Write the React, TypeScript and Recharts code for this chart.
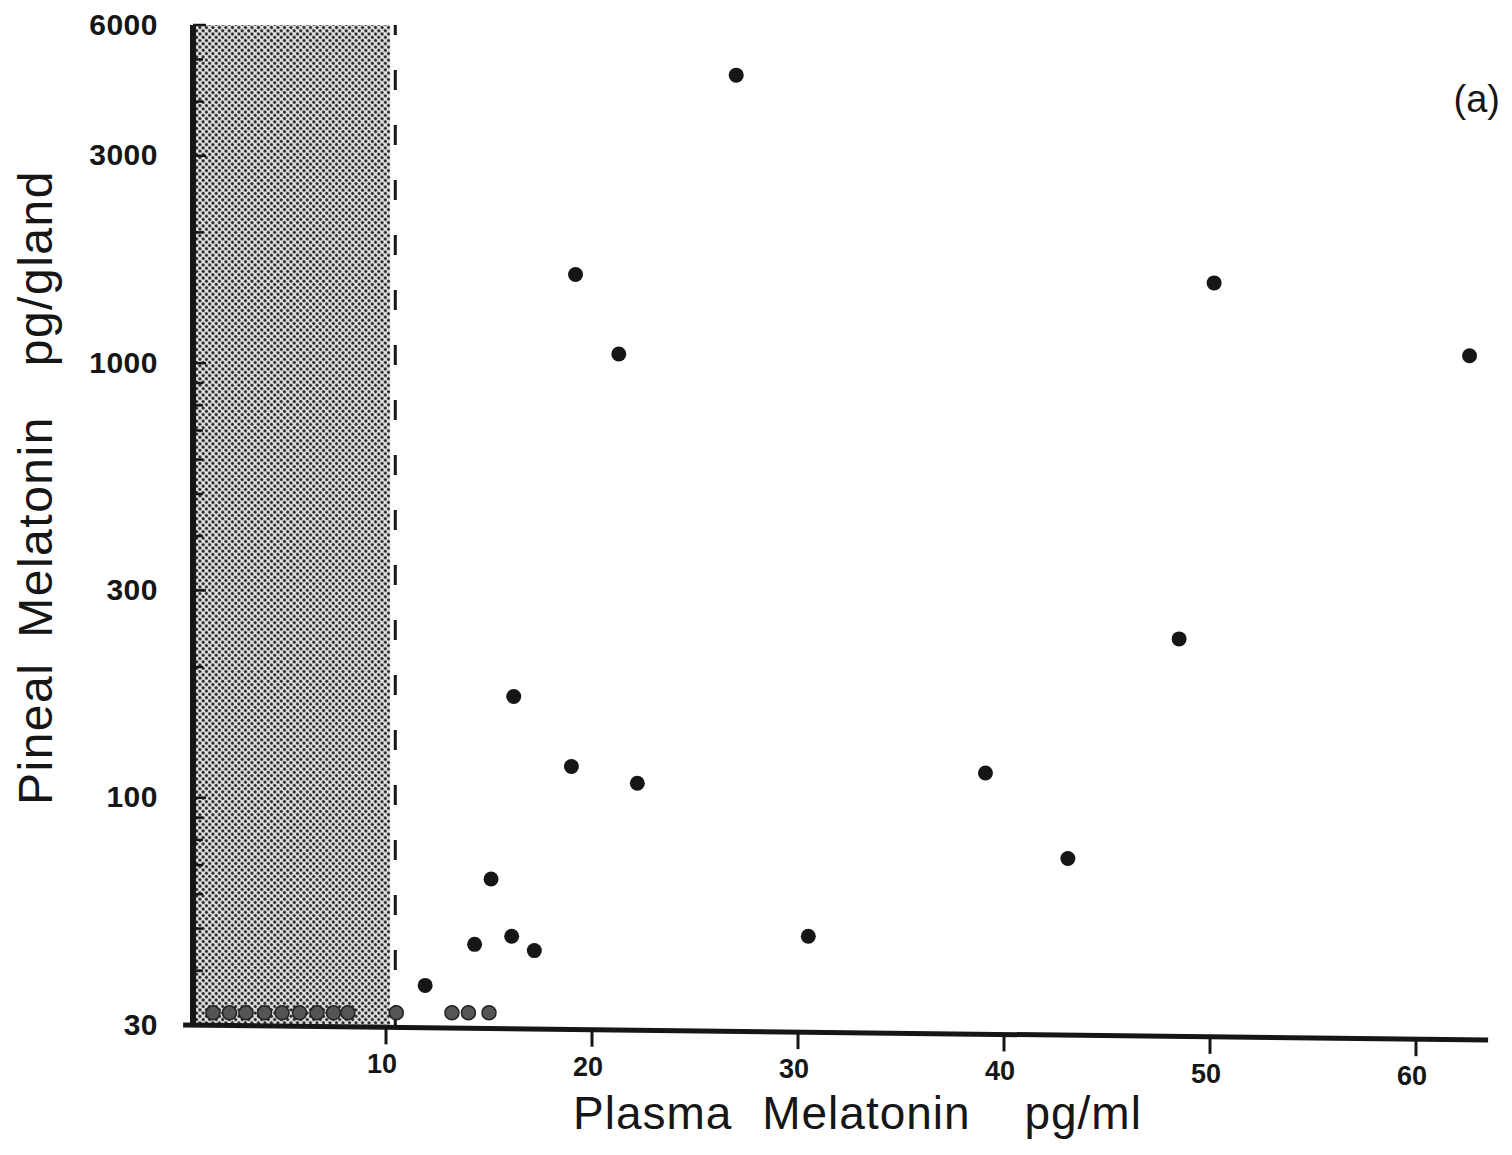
import React from 'react';
import { ScatterChart, Scatter, XAxis, YAxis, ReferenceArea, ReferenceLine } from 'recharts';

// ---- data ----
const plasmaX = [27.0, 19.2, 21.3, 50.2, 62.6, 48.5, 16.2, 19.0, 22.2, 39.1, 43.1, 15.1, 14.3, 16.1, 17.2, 30.5, 11.9];
const pinealY = [4600, 1600, 1050, 1530, 1040, 232, 171, 118, 108, 114, 72.5, 65, 46, 48, 44.5, 48, 37];

const undetectX = [1.6, 2.4, 3.2, 4.1, 4.95, 5.8, 6.65, 7.45, 8.15, 10.5, 13.2, 14.0, 15.0];
const undetectY = 32;

const xTicks = [10, 20, 30, 40, 50, 60];
const yMajor = [30, 100, 300, 1000, 3000, 6000];
const yMinor = [40, 50, 60, 70, 80, 90, 200, 400, 500, 600, 700, 800, 900, 2000, 4000, 5000];

const xDomain = [0.63, 63.35];
const yDomain = [30, 6000];
const shade = { x1: 0.63, x2: 10.2 };
const detectionLimit = 10.45;
const axisEnds = [{ x: 0.15, y: 30 }, { x: 63.5, y: 27.7 }];

const mainData = plasmaX.map((x, i) => ({ x, y: pinealY[i] }));
const lowData = undetectX.map((x) => ({ x, y: undetectY }));
const yTicks = [...yMajor, ...yMinor].sort((a, b) => a - b);

const INK = '#161616';

const slope = (xs: number) => ((xs - 175) / 1305) * 15;

const XTick = (props: any) => {
  const { x, y, payload } = props;
  const base = y + slope(x);
  return (
    <g>
      <line x1={x} x2={x} y1={base} y2={base + 17} stroke={INK} strokeWidth={3} />
      <text x={x - 4} y={base + 37} textAnchor="middle" dominantBaseline="central"
        fontFamily="Liberation Sans" fontWeight="bold" fontSize={27} fill={INK}>
        {payload.value}
      </text>
    </g>
  );
};

const YTick = (props: any) => {
  const { x, y, payload } = props;
  const major = yMajor.includes(payload.value);
  return (
    <g>
      <line x1={x} x2={x + (major ? 13 : 10)} y1={y} y2={y} stroke={INK} strokeWidth={2.5} />
      {major && (
        <text x={x - 35} y={y - 1} textAnchor="end" dominantBaseline="central"
          fontFamily="Liberation Sans" fontWeight="bold" fontSize={30} fill={INK} letterSpacing={0.5}>
          {payload.value}
        </text>
      )}
    </g>
  );
};

const Dot = (props: any) => <circle cx={props.cx} cy={props.cy} r={7.5} fill={INK} />;
const LowDot = (props: any) => (
  <circle cx={props.cx} cy={props.cy} r={7} fill="#555" stroke="#222" strokeWidth={1.5} />
);

export default function App() {
  return (
    <div style={{ width: 1504, height: 1147, background: '#fff' }}>
      <ScatterChart width={1504} height={1147} margin={{ top: 17, right: 27, left: 0, bottom: 0 }}>
        <defs>
          <pattern id="halftone" width="4.6" height="4.6" patternUnits="userSpaceOnUse" patternTransform="rotate(45)">
            <rect width="4.6" height="4.6" fill="#e2e2e2" />
            <circle cx="2.3" cy="2.3" r="1.65" fill="#2a2a2a" />
          </pattern>
        </defs>
        <XAxis type="number" dataKey="x" domain={xDomain} ticks={xTicks} allowDataOverflow
          axisLine={false} tickLine={false} tickSize={0} tickMargin={0} height={130} tick={<XTick />} interval={0} />
        <YAxis type="number" dataKey="y" scale="log" domain={yDomain} ticks={yTicks} allowDataOverflow
          axisLine={{ stroke: INK, strokeWidth: 6 }} tickLine={false} tickSize={0} tickMargin={0}
          width={185} tick={<YTick />} interval={0} />
        <ReferenceArea x1={shade.x1} x2={shade.x2} y1={yDomain[0]} y2={yDomain[1]} fill="url(#halftone)" fillOpacity={1} stroke="none" />
        <ReferenceLine x={detectionLimit} stroke={INK} strokeWidth={3} strokeDasharray="20 35" />
        <ReferenceLine segment={axisEnds} stroke={INK} strokeWidth={5} ifOverflow="visible" />
        <Scatter data={lowData} shape={<LowDot />} isAnimationActive={false} />
        <Scatter data={mainData} shape={<Dot />} isAnimationActive={false} />
        <text x={1492} y={104} textAnchor="end" fontFamily="Liberation Sans" fontSize={38} fill={INK}>(a)</text>
        <text x={565} y={1121} fontFamily="Liberation Sans" fontSize={46} fill={INK} letterSpacing={1}>
          <tspan>Plasma </tspan>
          <tspan dx={16}>Melatonin </tspan>
          <tspan dx={40}>pg/ml</tspan>
        </text>
        <text transform="translate(44,797) rotate(-90)" fontFamily="Liberation Sans" fontSize={48} fill={INK} letterSpacing={1.5}>
          <tspan>Pineal </tspan>
          <tspan dx={10}>Melatonin </tspan>
          <tspan dx={35}>pg/gland</tspan>
        </text>
      </ScatterChart>
    </div>
  );
}
